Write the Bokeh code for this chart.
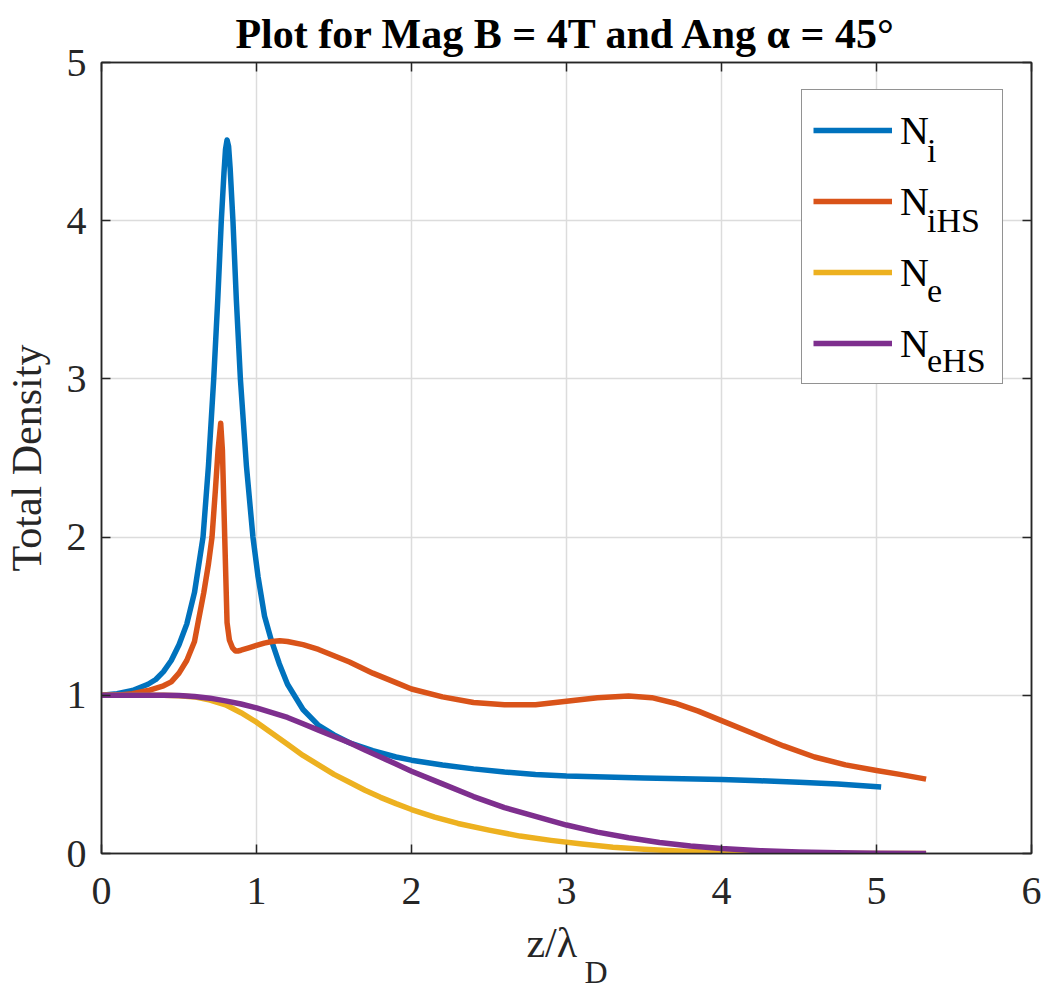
from bokeh.plotting import figure
from bokeh.models import (LinearAxis, FixedTicker, Legend, LegendItem, Range1d, Title,
                          CustomJSTickFormatter)
from bokeh.embed import file_html
from bokeh.resources import INLINE

# ---------------- data ----------------
x_ticks = [0, 1, 2, 3, 4, 5, 6]
y_ticks = [0, 1, 2, 3, 4, 5]

ni_x = [0, 0.1, 0.2, 0.3, 0.35, 0.4, 0.45, 0.5, 0.55, 0.6, 0.655, 0.69, 0.724, 0.75,
        0.773, 0.79, 0.8, 0.81, 0.82, 0.83, 0.848, 0.87, 0.896, 0.935, 0.977, 1.01,
        1.052, 1.095, 1.147, 1.2, 1.3, 1.4, 1.5, 1.6, 1.75, 1.9, 2.0, 2.2, 2.4, 2.6,
        2.8, 3.0, 3.25, 3.5, 3.75, 4.0, 4.25, 4.5, 4.75, 5.03]
ni_y = [1.0, 1.01, 1.03, 1.07, 1.1, 1.15, 1.22, 1.32, 1.45, 1.65, 2.0, 2.45, 3.0, 3.5,
        4.0, 4.3, 4.45, 4.51, 4.47, 4.33, 4.0, 3.5, 3.0, 2.45, 2.0, 1.75,
        1.5, 1.35, 1.2, 1.07, 0.91, 0.81, 0.75, 0.70, 0.65, 0.61, 0.59, 0.56, 0.535, 0.515,
        0.50, 0.49, 0.483, 0.477, 0.472, 0.467, 0.46, 0.45, 0.44, 0.42]

nihs_x = [0, 0.1, 0.2, 0.3, 0.4, 0.45, 0.5, 0.55, 0.6, 0.623, 0.66, 0.69, 0.713, 0.735,
          0.752, 0.769, 0.78, 0.795, 0.81, 0.825, 0.845, 0.865, 0.88, 0.9, 0.95, 1.0,
          1.05, 1.1, 1.15, 1.2, 1.3, 1.4, 1.5, 1.6, 1.75, 1.9, 2.0, 2.2, 2.4, 2.6, 2.8,
          3.0, 3.2, 3.4, 3.55, 3.7, 3.85, 4.0, 4.2, 4.4, 4.6, 4.8, 5.0, 5.15, 5.32]
nihs_y = [1.0, 1.0, 1.01, 1.03, 1.06, 1.085, 1.14, 1.22, 1.34, 1.46, 1.65, 1.83, 2.0, 2.3,
          2.55, 2.72, 2.55, 2.0, 1.46, 1.35, 1.3, 1.28, 1.28, 1.285, 1.3, 1.315,
          1.33, 1.34, 1.345, 1.34, 1.32, 1.29, 1.25, 1.21, 1.14, 1.08, 1.04, 0.99, 0.955, 0.94, 0.94,
          0.963, 0.985, 0.995, 0.985, 0.95, 0.9, 0.84, 0.76, 0.68, 0.61, 0.56, 0.525, 0.5, 0.47]

ne_x = [0, 0.2, 0.4, 0.5, 0.6, 0.7, 0.8, 0.9, 1.0, 1.1, 1.2, 1.3, 1.4, 1.5, 1.6, 1.7,
        1.8, 1.9, 2.0, 2.15, 2.3, 2.5, 2.7, 2.9, 3.1, 3.3, 3.5, 3.75, 4.0, 4.3, 4.6, 5.0, 5.32]
ne_y = [1.0, 1.0, 1.0, 0.997, 0.99, 0.97, 0.94, 0.89, 0.83, 0.76, 0.69, 0.62, 0.56, 0.5, 0.45, 0.4,
        0.355, 0.315, 0.278, 0.23, 0.19, 0.148, 0.11, 0.083, 0.06, 0.04, 0.027, 0.014, 0.006, 0.002, 0.001, 0.0, 0.0]

nehs_x = [0, 0.2, 0.4, 0.5, 0.6, 0.7, 0.8, 0.9, 1.0, 1.1, 1.2, 1.3, 1.4, 1.5, 1.6, 1.7,
          1.8, 1.9, 2.0, 2.2, 2.4, 2.6, 2.8, 3.0, 3.2, 3.4, 3.6, 3.8, 4.0, 4.25, 4.5, 4.75, 5.0, 5.32]
nehs_y = [1.0, 1.0, 1.0, 0.998, 0.993, 0.982, 0.965, 0.945, 0.92, 0.89, 0.86, 0.82, 0.78, 0.74, 0.70, 0.655,
          0.61, 0.565, 0.52, 0.44, 0.36, 0.29, 0.235, 0.18, 0.135, 0.1, 0.07, 0.048, 0.032, 0.018, 0.01, 0.005, 0.002, 0.0]

series_names = ["N", "N", "N", "N"]
series_subs = ["i", "iHS", "e", "eHS"]
colors = ["#0072BD", "#D95319", "#EDB120", "#7E2F8E"]

FONT = "Liberation Serif"
AX = "#262626"

p = figure(width=1049, height=990, output_backend="svg", toolbar_location=None,
           x_range=Range1d(0, 6), y_range=Range1d(0, 5),
           min_border_left=100, min_border_right=18, min_border_top=62, min_border_bottom=137,
           background_fill_color="white", border_fill_color="white")

p.title.text = "Plot for Mag B = 4T and Ang \u03b1 = 45\u00b0"
p.title.align = "center"
p.title.text_font = FONT
p.title.text_font_size = "42px"
p.title.text_font_style = "bold"
p.title.text_color = "black"
p.title.standoff = 12

p.outline_line_color = AX
p.outline_line_width = 1.5

for ax, ticks in ((p.xaxis[0], x_ticks), (p.yaxis[0], y_ticks)):
    ax.ticker = FixedTicker(ticks=ticks)
    ax.major_tick_in = 9
    ax.major_tick_out = 0
    ax.minor_tick_in = 0
    ax.minor_tick_out = 0
    ax.axis_line_color = AX
    ax.axis_line_width = 1.5
    ax.major_tick_line_color = AX
    ax.major_tick_line_width = 1.5
    ax.major_label_text_font = FONT
    ax.major_label_text_font_size = "40px"
    ax.major_label_text_color = "#262626"

p.xaxis[0].major_label_standoff = 24
p.xaxis[0].axis_label = "z/\u03bb\u2002\u2009"
p.xaxis[0].axis_label_text_font = FONT
p.xaxis[0].axis_label_text_font_size = "42px"
p.xaxis[0].axis_label_text_font_style = "normal"
p.xaxis[0].axis_label_text_color = "#262626"
p.xaxis[0].axis_label_standoff = 13

p.yaxis[0].major_label_standoff = 15
p.yaxis[0].axis_label = "Total Density"
p.yaxis[0].axis_label_text_font = FONT
p.yaxis[0].axis_label_text_font_size = "42px"
p.yaxis[0].axis_label_text_font_style = "normal"
p.yaxis[0].axis_label_text_color = "#262626"
p.yaxis[0].axis_label_standoff = 14

# subscript D of the x-axis label
sub_d = Title(text="D", align="left", offset=483, standoff=-33, text_font=FONT,
              text_font_size="32px", text_font_style="normal", text_color="#262626")
p.add_layout(sub_d, "below")

blank = CustomJSTickFormatter(code="return ''")
top = LinearAxis(ticker=FixedTicker(ticks=x_ticks), formatter=blank,
                 major_tick_in=9, major_tick_out=0, minor_tick_in=0, minor_tick_out=0,
                 major_label_standoff=0, axis_line_color=AX, axis_line_width=1.5,
                 major_tick_line_color=AX, major_tick_line_width=1.5)
right = LinearAxis(ticker=FixedTicker(ticks=y_ticks), formatter=blank,
                   major_tick_in=9, major_tick_out=0, minor_tick_in=0, minor_tick_out=0,
                   major_label_standoff=0, axis_line_color=AX, axis_line_width=1.5,
                   major_tick_line_color=AX, major_tick_line_width=1.5)
p.add_layout(top, "above")
p.add_layout(right, "right")

p.xgrid.ticker = FixedTicker(ticks=x_ticks)
p.ygrid.ticker = FixedTicker(ticks=y_ticks)
p.grid.grid_line_color = "#dcdcdc"
p.grid.grid_line_width = 1.5

renderers = []
for xs, ys, c in ((ni_x, ni_y, colors[0]), (nihs_x, nihs_y, colors[1]),
                  (ne_x, ne_y, colors[2]), (nehs_x, nehs_y, colors[3])):
    r = p.line(xs, ys, line_color=c, line_width=5.5, line_join="round")
    renderers.append(r)

legend = Legend(items=[LegendItem(label=n, renderers=[r]) for n, r in zip(series_names, renderers)],
                location=(700, 469), padding=11, spacing=13, margin=0,
                glyph_width=79, glyph_height=58, label_height=58, label_width=91,
                label_standoff=8, label_text_font=FONT, label_text_font_size="40px",
                label_text_baseline="alphabetic", label_text_color="black",
                border_line_color=AX, border_line_width=1.5,
                background_fill_color="white", background_fill_alpha=1.0)
p.add_layout(legend)

# second, transparent legend that carries the subscripts of the labels
sub_legend = Legend(items=[LegendItem(label=s, renderers=[r]) for s, r in zip(series_subs, renderers)],
                    location=(826, 463), padding=0, spacing=12, margin=0,
                    glyph_width=0, glyph_height=58, label_height=58, label_width=20,
                    label_standoff=0, label_text_font=FONT, label_text_font_size="34px",
                    label_text_baseline="alphabetic", label_text_color="black",
                    border_line_alpha=0, background_fill_alpha=0)
p.add_layout(sub_legend)

open("out.html", "w").write(file_html(p, INLINE))
